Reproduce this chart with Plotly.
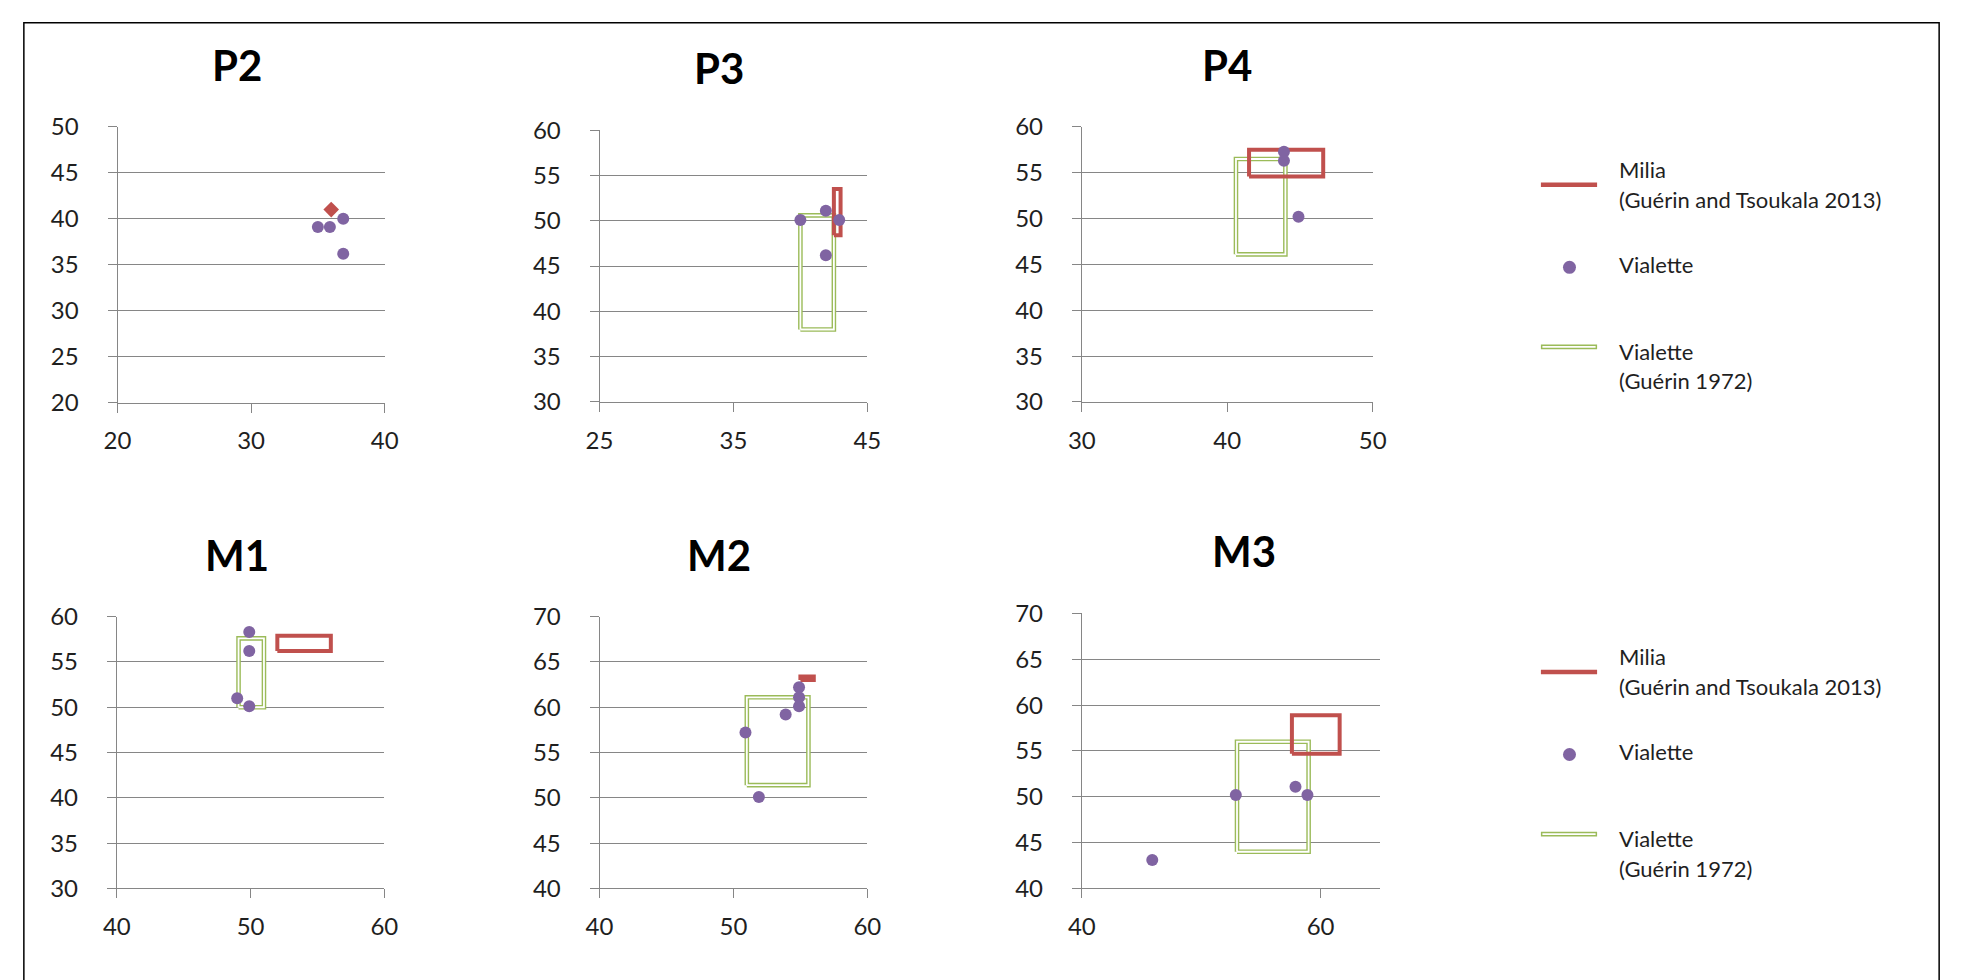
import plotly.graph_objects as go

W, H = 1963, 980

# ---------------- data ----------------
panel_names = ["P2", "P3", "P4", "M1", "M2", "M3"]

# axis ranges and ticks per panel
x_lo = [20, 25, 30, 40, 40, 40]
x_hi = [40, 45, 50, 60, 60, 65]
x_ticks = [[20, 30, 40], [25, 35, 45], [30, 40, 50], [40, 50, 60], [40, 50, 60], [40, 60]]
y_lo = [20, 30, 30, 30, 40, 40]
y_hi = [50, 60, 60, 60, 70, 70]

# Vialette specimens (points)
vial_x_p2 = [35.0, 35.9, 36.9, 36.9]
vial_y_p2 = [39.1, 39.1, 40.0, 36.2]
vial_x_p3 = [40.0, 41.9, 41.9, 42.9]
vial_y_p3 = [50.1, 51.1, 46.2, 50.1]
vial_x_p4 = [43.9, 43.9, 44.9]
vial_y_p4 = [57.3, 56.3, 50.2]
vial_x_m1 = [49.9, 49.9, 49.0, 49.9]
vial_y_m1 = [58.3, 56.2, 51.0, 50.1]
vial_x_m2 = [54.9, 54.9, 54.9, 53.9, 50.9, 51.9]
vial_y_m2 = [62.2, 61.1, 60.1, 59.2, 57.2, 50.1]
vial_x_m3 = [45.9, 52.9, 57.9, 58.9]
vial_y_m3 = [43.1, 50.2, 51.1, 50.2]

# Milia (Guérin and Tsoukala 2013): P2 single point, others ranges
milia_x_p2 = [36.0]
milia_y_p2 = [41.0]
milia_xmin = [None, 42.5, 41.5, 52.0, 55.0, 57.6]
milia_xmax = [None, 43.0, 46.6, 56.0, 56.0, 61.6]
milia_ymin = [None, 48.4, 54.6, 56.2, 63.0, 54.7]
milia_ymax = [None, 53.5, 57.5, 57.9, 63.4, 58.9]

# Vialette (Guérin 1972) ranges
g72_xmin = [None, 40.0, 40.6, 49.1, 51.0, 53.0]
g72_xmax = [None, 42.5, 44.0, 51.0, 55.6, 59.0]
g72_ymin = [None, 38.0, 46.1, 50.0, 51.4, 44.0]
g72_ymax = [None, 50.6, 56.5, 57.6, 61.1, 56.0]

vial_x = [vial_x_p2, vial_x_p3, vial_x_p4, vial_x_m1, vial_x_m2, vial_x_m3]
vial_y = [vial_y_p2, vial_y_p3, vial_y_p4, vial_y_m1, vial_y_m2, vial_y_m3]

legend_labels = [["Milia", "(Guérin and Tsoukala 2013)"], ["Vialette"], ["Vialette", "(Guérin 1972)"]]

# ---------------- style ----------------
RED = "#C0504D"
PURPLE = "#8064A2"
GREEN = "#9BBB59"
GRID = "#868686"
TXT = "#1f1f1f"
FONT = "Lato"
TICK_SIZE = 24
LEG_SIZE = 22

# plot areas in pixels: (left, right, top, bottom)
areas = [
    (105, 376, 114.3, 398.3),
    (594, 865.7, 117.7, 397.7),
    (1083.3, 1378.3, 114.3, 397.7),
    (104.3, 375.7, 619, 899),
    (594, 865.7, 619, 899),
    (1083.3, 1386, 615.7, 899),
]
title_pos = [(226.7, 50), (715.7, 53.3), (1230.7, 50), (226.7, 555), (715.7, 555), (1248, 551.7)]


def px(x):
    return x / W


def py(y):
    return 1 - y / H


def rect(xa, xb, ya, yb):
    return [xa, xb, xb, xa, xa], [ya, ya, yb, yb, ya]


fig = go.Figure()
layout = dict(
    width=W, height=H, margin=dict(l=0, r=0, t=0, b=0),
    paper_bgcolor="white", plot_bgcolor="white", showlegend=False,
    font=dict(family=FONT, size=TICK_SIZE, color=TXT),
)

annotations = []
shapes = []

for i, name in enumerate(panel_names):
    k = "" if i == 0 else str(i + 1)
    xa, ya = "x" + k, "y" + k
    l, r, t, b = areas[i]
    layout["xaxis" + k] = dict(
        domain=[px(l), px(r)], range=[x_lo[i], x_hi[i]], anchor=ya,
        tickvals=x_ticks[i], showgrid=False, zeroline=False,
        showline=True, linecolor=GRID, linewidth=1,
        ticks="outside", ticklen=9, tickcolor=GRID, tickwidth=1,
        tickfont=dict(family=FONT, size=TICK_SIZE, color=TXT), ticklabelstandoff=8,
        fixedrange=True,
    )
    layout["yaxis" + k] = dict(
        domain=[py(b), py(t)], range=[y_lo[i], y_hi[i]], anchor=xa,
        dtick=5, tick0=0, showgrid=True, gridcolor=GRID, gridwidth=1, zeroline=False,
        showline=True, linecolor=GRID, linewidth=1,
        ticks="outside", ticklen=9, tickcolor=GRID, tickwidth=1,
        tickfont=dict(family=FONT, size=TICK_SIZE, color=TXT), ticklabelstandoff=24,
        fixedrange=True,
    )

    # Guérin 1972 ranges: double green line
    if g72_xmin[i] is not None:
        gx, gy = rect(g72_xmin[i], g72_xmax[i], g72_ymin[i], g72_ymax[i])
        fig.add_trace(go.Scatter(x=gx, y=gy, mode="lines", xaxis=xa, yaxis=ya,
                                 line=dict(color=GREEN, width=4.6), hoverinfo="skip"))
        fig.add_trace(go.Scatter(x=gx, y=gy, mode="lines", xaxis=xa, yaxis=ya,
                                 line=dict(color="white", width=1.8), hoverinfo="skip"))
    # Milia
    if milia_xmin[i] is not None:
        mx, my = rect(milia_xmin[i], milia_xmax[i], milia_ymin[i], milia_ymax[i])
        fig.add_trace(go.Scatter(x=mx, y=my, mode="lines", xaxis=xa, yaxis=ya,
                                 line=dict(color=RED, width=4), hoverinfo="skip"))
    else:
        fig.add_trace(go.Scatter(x=milia_x_p2, y=milia_y_p2, mode="markers", xaxis=xa, yaxis=ya,
                                 marker=dict(symbol="diamond", color=RED, size=12)))
    # Vialette points
    fig.add_trace(go.Scatter(x=vial_x[i], y=vial_y[i], mode="markers", xaxis=xa, yaxis=ya,
                             marker=dict(symbol="circle", color=PURPLE, size=12)))

    tx, ty = title_pos[i]
    annotations.append(dict(text="<b>" + name + "</b>", x=px(tx), y=py(ty), xref="paper", yref="paper",
                            xanchor="center", yanchor="middle", showarrow=False,
                            font=dict(family=FONT, size=42, color="black")))

# ---------------- manual legends ----------------
legend_tops = [0, 502]  # vertical offset of each legend block
for off in legend_tops:
    # Milia line
    shapes.append(dict(type="line", xref="paper", yref="paper", x0=px(1549), x1=px(1606),
                       y0=py(174 + off), y1=py(174 + off), line=dict(color=RED, width=4.5)))
    # Vialette dot
    shapes.append(dict(type="circle", xref="paper", yref="paper", xsizemode="pixel", ysizemode="pixel",
                       xanchor=px(1578), yanchor=py(259 + off), x0=-6.5, x1=6.5, y0=-6.5, y1=6.5,
                       fillcolor=PURPLE, line=dict(width=0)))
    # Guérin 1972 double line
    shapes.append(dict(type="line", xref="paper", yref="paper", x0=px(1549), x1=px(1606),
                       y0=py(341 + off), y1=py(341 + off), line=dict(color=GREEN, width=4.8)))
    shapes.append(dict(type="line", xref="paper", yref="paper", x0=px(1550.5), x1=px(1604.5),
                       y0=py(341 + off), y1=py(341 + off), line=dict(color="white", width=1.8)))
    texts = [(legend_labels[0][0], 158), (legend_labels[0][1], 189),
             (legend_labels[1][0], 256), (legend_labels[2][0], 346), (legend_labels[2][1], 376)]
    for s, yy in texts:
        annotations.append(dict(text=s, x=px(1626), y=py(yy + off), xref="paper", yref="paper",
                                xanchor="left", yanchor="middle", showarrow=False,
                                font=dict(family=FONT, size=LEG_SIZE, color=TXT)))

# outer border
shapes.append(dict(type="rect", xref="paper", yref="paper", x0=px(10), x1=px(1953),
                   y0=-0.05, y1=py(7), line=dict(color="black", width=1.5), layer="above"))

layout["annotations"] = annotations
layout["shapes"] = shapes
fig.update_layout(**layout)

fig.write_html(
    "out.html",
    post_script="document.body.style.margin='0';document.body.style.overflow='hidden';",
)
